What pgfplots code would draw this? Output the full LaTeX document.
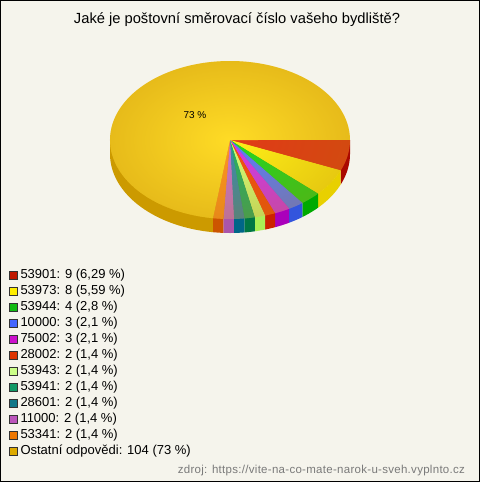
\documentclass[border=0pt]{standalone}
\usepackage{fontspec}
\setmainfont{Liberation Sans}
\usepackage{pgfplots}
\pgfplotsset{compat=1.18}
\usepackage{pgfplotstable}
\usetikzlibrary{fadings}

\definecolor{bg}{HTML}{F5F4EC}
% top faces
\definecolor{s0}{HTML}{E23A18}
\definecolor{s1}{HTML}{FFF018}
\definecolor{s2}{HTML}{22D822}
\definecolor{s3}{HTML}{5A7CFF}
\definecolor{s4}{HTML}{D038F0}
\definecolor{s5}{HTML}{F44E12}
\definecolor{s6}{HTML}{D0FF7C}
\definecolor{s7}{HTML}{22B06A}
\definecolor{s8}{HTML}{388CAE}
\definecolor{s9}{HTML}{C574D4}
\definecolor{s10}{HTML}{FF9424}
\definecolor{s11}{HTML}{FFDC26}
% sides
\definecolor{d0}{HTML}{AA0800}
\definecolor{d1}{HTML}{E8D000}
\definecolor{d2}{HTML}{00AA00}
\definecolor{d3}{HTML}{3355DD}
\definecolor{d4}{HTML}{AA00BB}
\definecolor{d5}{HTML}{CC2200}
\definecolor{d6}{HTML}{AAEE55}
\definecolor{d7}{HTML}{007744}
\definecolor{d8}{HTML}{006688}
\definecolor{d9}{HTML}{AA55AA}
\definecolor{d10}{HTML}{CC5500}
\definecolor{d11}{HTML}{CC9A00}
% legend keys
\definecolor{l0}{HTML}{C01800}
\definecolor{l1}{HTML}{FFEE00}
\definecolor{l2}{HTML}{11BB11}
\definecolor{l3}{HTML}{4466FF}
\definecolor{l4}{HTML}{CC11CC}
\definecolor{l5}{HTML}{DD3300}
\definecolor{l6}{HTML}{CCFF88}
\definecolor{l7}{HTML}{119966}
\definecolor{l8}{HTML}{117788}
\definecolor{l9}{HTML}{BB55BB}
\definecolor{l10}{HTML}{EE7700}
\definecolor{l11}{HTML}{DDAA00}
\definecolor{rim}{HTML}{B07000}

\tikzfading[name=pieedge, inner color=transparent!100, outer color=transparent!0]

\pgfplotstableread[col sep=semicolon]{
label;n;pct
53901;9;6,29
53973;8;5,59
53944;4;2,8
10000;3;2,1
75002;3;2,1
28002;2;1,4
53943;2;1,4
53941;2;1,4
28601;2;1,4
11000;2;1,4
53341;2;1,4
Ostatní odpovědi;104;73
}\answers

% pie geometry (pixels)
\def\cx{230}\def\cy{140}\def\rx{120}\def\ry{79}\def\dep{14}

\begin{document}
\begin{tikzpicture}
\begin{axis}[
  width=480pt, height=482pt, scale only axis,
  xmin=0, xmax=480, ymin=0, ymax=482, y dir=reverse,
  hide axis, clip=false,
  legend image code/.code={\draw[#1, draw=black!80, line width=0.6pt] (0.3pt,-4.2pt) rectangle (8.5pt,4pt);},
  legend style={at={(axis cs:9,267)}, anchor=north west, draw=none, fill=none,
    inner sep=0pt, row sep=0pt, column sep=2.5pt,
    font=\fontsize{13}{15}\selectfont,
    nodes={inner sep=0pt, text height=11pt, text depth=5pt},
    cells={anchor=west}},
]
\draw[fill=bg, line width=1pt] (axis cs:0.5,0.5) rectangle (axis cs:479.5,481.5);

\pgfplotstablegetrowsof{\answers}
\pgfmathtruncatemacro\nrows{\pgfplotsretval-1}
\def\total{0}
\pgfplotsforeachungrouped \i in {0,...,\nrows}{%
  \pgfplotstablegetelem{\i}{n}\of\answers
  \pgfmathsetmacro\total{\total+\pgfplotsretval}}

% side walls (front half only)
\def\cum{0}
\pgfplotsforeachungrouped \i in {0,...,\nrows}{%
  \pgfplotstablegetelem{\i}{n}\of\answers
  \pgfmathsetmacro\a{\cum/\total*360}
  \pgfmathsetmacro\cum{\cum+\pgfplotsretval}
  \pgfmathsetmacro\b{\cum/\total*360}
  \ifdim\a pt<180pt
    \pgfmathsetmacro\e{min(\b,180)}
    \pgfmathsetmacro\xa{\cx+\rx*cos(\a)}\pgfmathsetmacro\ya{\cy+\ry*sin(\a)}
    \pgfmathsetmacro\xe{\cx+\rx*cos(\e)}\pgfmathsetmacro\ye{\cy+\ry*sin(\e)}
    \edef\cmd{\noexpand\addplot[forget plot, draw=none, fill=d\i, domain=\a:\e, samples=60]
      ({\cx+\rx*cos(x)},{\cy+\dep+\ry*sin(x)})
      -- (axis cs:\xe,\ye) -- (axis cs:\cx,\cy) -- (axis cs:\xa,\ya) -- cycle;}%
    \cmd
  \fi}

% top faces
\def\cum{0}
\pgfplotsforeachungrouped \i in {0,...,\nrows}{%
  \pgfplotstablegetelem{\i}{n}\of\answers
  \pgfmathsetmacro\a{\cum/\total*360}
  \pgfmathsetmacro\cum{\cum+\pgfplotsretval}
  \pgfmathsetmacro\b{\cum/\total*360}
  \edef\cmd{\noexpand\addplot[forget plot, draw=none, fill=s\i, domain=\a:\b, samples=90]
    ({\cx+\rx*cos(x)},{\cy+\ry*sin(x)}) -- (axis cs:\cx,\cy) -- cycle;}%
  \cmd}

% darker rim on the top face
\fill[rim, opacity=0.3, path fading=pieedge]
  (axis cs:\cx,\cy) ellipse [x radius=\rx pt, y radius=\ry pt];

\node[font=\fontsize{10}{12}\selectfont] at (axis cs:195,115) {73 \%};

% legend
\pgfplotsforeachungrouped \i in {0,...,\nrows}{%
  \pgfplotstablegetelem{\i}{label}\of\answers \let\lab\pgfplotsretval
  \pgfplotstablegetelem{\i}{n}\of\answers \let\num\pgfplotsretval
  \pgfplotstablegetelem{\i}{pct}\of\answers \let\pc\pgfplotsretval
  \edef\cmd{\noexpand\addlegendimage{fill=l\i}%
    \noexpand\addlegendentry{\lab:\space\num\space(\pc\space\noexpand\%)}}%
  \cmd}

\node[font=\fontsize{14.7}{16}\selectfont, anchor=base] at (axis cs:237,23.5)
  {Jaké je poštovní směrovací číslo vašeho bydliště?};
\node[font=\fontsize{11.5}{13}\selectfont\addfontfeatures{LetterSpace=2.5}, text=black!52, anchor=base east]
  at (axis cs:468.5,473.5)
  {zdroj: https://vite-na-co-mate-narok-u-sveh.vyplnto.cz};
\end{axis}
\end{tikzpicture}
\end{document}
